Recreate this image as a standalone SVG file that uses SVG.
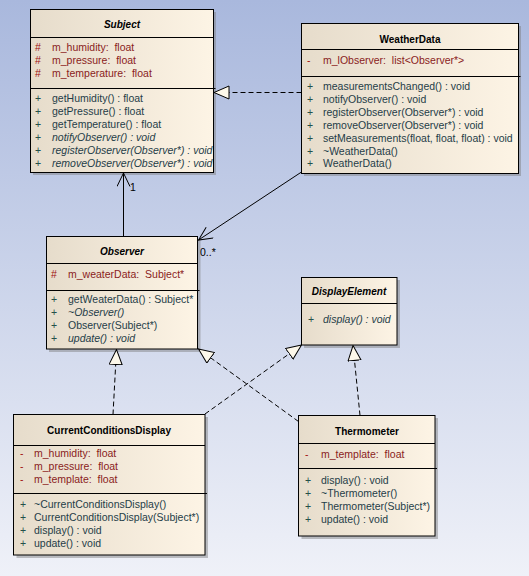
<svg xmlns="http://www.w3.org/2000/svg" width="529" height="576" viewBox="0 0 529 576">
<defs>
<linearGradient id="bg" x1="0" y1="0" x2="0" y2="1">
<stop offset="0" stop-color="#a9b8dd"/>
<stop offset="1" stop-color="#eff1f8"/>
</linearGradient>
<linearGradient id="box" x1="0" y1="0" x2="1" y2="0">
<stop offset="0" stop-color="#e6dccb"/>
<stop offset="1" stop-color="#fdf4e5"/>
</linearGradient>
<marker id="tri" markerUnits="userSpaceOnUse" viewBox="0 0 16 15" refX="15.5" refY="7" markerWidth="16" markerHeight="15" orient="auto">
<path d="M0.5,0.5 L15.5,7 L0.5,13.5 Z" fill="#fdf8ea" stroke="#000" stroke-width="1" stroke-dasharray="none"/>
</marker>
<marker id="open" markerUnits="userSpaceOnUse" viewBox="0 0 15 15" refX="14" refY="7" markerWidth="15" markerHeight="15" orient="auto">
<path d="M0.5,0.5 L14,7 L0.5,13.5" fill="none" stroke="#000" stroke-width="1" stroke-dasharray="none"/>
</marker>
</defs>
<style>
.shadow{fill:#7a7a7a;opacity:0.45}
.frame{fill:url(#box);stroke:#000;stroke-width:1}
.sep{stroke:#000;stroke-width:1}
text{font-family:"Liberation Sans",Arial,sans-serif;font-size:10.5px;white-space:pre}
.title{font-weight:bold;font-size:10px;fill:#000;text-anchor:middle}
.abs{font-style:italic}
.attr{fill:#8a1c1c}
.meth{fill:#1f3d48}
.vis-a{fill:#a01010}
.vis-m{fill:#24504a}
.it{font-style:italic}
.assoc{fill:none;stroke:#000;stroke-width:1}
.real{fill:none;stroke:#000;stroke-width:1;stroke-dasharray:5,3}
.lbl{fill:#000;font-size:10.5px}
</style>
<rect x="0" y="0" width="529" height="576" fill="url(#bg)"/>

<g id="Subject">
<rect class="shadow" x="33" y="12" width="183" height="163"/>
<rect class="frame" x="30.5" y="9.5" width="183" height="163"/>
<text class="title abs" x="122" y="28">Subject</text>
<line class="sep" x1="30.5" y1="37.5" x2="213.5" y2="37.5"/>
<text class="vis-a" x="35" y="50.5">#</text><text class="attr" x="52" y="50.5">m_humidity:  float</text>
<text class="vis-a" x="35" y="63.5">#</text><text class="attr" x="52" y="63.5">m_pressure:  float</text>
<text class="vis-a" x="35" y="76.5">#</text><text class="attr" x="52" y="76.5">m_temperature:  float</text>
<line class="sep" x1="30.5" y1="88.5" x2="215.5" y2="88.5"/>
<text class="vis-m" x="35" y="102">+</text><text class="meth" x="52" y="102">getHumidity() : float</text>
<text class="vis-m" x="35" y="115">+</text><text class="meth" x="52" y="115">getPressure() : float</text>
<text class="vis-m" x="35" y="128">+</text><text class="meth" x="52" y="128">getTemperature() : float</text>
<text class="vis-m" x="35" y="141">+</text><text class="meth it" x="52" y="141">notifyObserver() : void</text>
<text class="vis-m" x="35" y="154">+</text><text class="meth it" x="52" y="154">registerObserver(Observer*) : void</text>
<text class="vis-m" x="35" y="167">+</text><text class="meth it" x="52" y="167">removeObserver(Observer*) : void</text>
</g>

<g id="WeatherData">
<rect class="shadow" x="304" y="26" width="217" height="150"/>
<rect class="frame" x="301.5" y="23.5" width="217" height="150"/>
<text class="title" x="410" y="42.5">WeatherData</text>
<line class="sep" x1="301.5" y1="49.5" x2="518.5" y2="49.5"/>
<text class="vis-a" x="307" y="64">-</text><text class="attr" x="323" y="64">m_lObserver:  list&lt;Observer*&gt;</text>
<line class="sep" x1="301.5" y1="76.5" x2="520.5" y2="76.5"/>
<text class="vis-m" x="307" y="90">+</text><text class="meth" x="323" y="90">measurementsChanged() : void</text>
<text class="vis-m" x="307" y="103">+</text><text class="meth" x="323" y="103">notifyObserver() : void</text>
<text class="vis-m" x="307" y="115.5">+</text><text class="meth" x="323" y="115.5">registerObserver(Observer*) : void</text>
<text class="vis-m" x="307" y="128.5">+</text><text class="meth" x="323" y="128.5">removeObserver(Observer*) : void</text>
<text class="vis-m" x="307" y="141.5">+</text><text class="meth" x="323" y="141.5">setMeasurements(float, float, float) : void</text>
<text class="vis-m" x="307" y="154.5">+</text><text class="meth" x="323" y="154.5">~WeatherData()</text>
<text class="vis-m" x="307" y="167">+</text><text class="meth" x="323" y="167">WeatherData()</text>
</g>

<g id="Observer">
<rect class="shadow" x="49" y="239.5" width="151.5" height="112.5"/>
<rect class="frame" x="46.5" y="236.5" width="151" height="112.5"/>
<text class="title abs" x="122" y="255">Observer</text>
<line class="sep" x1="46.5" y1="263.5" x2="197.5" y2="263.5"/>
<text class="vis-a" x="51" y="277.5">#</text><text class="attr" x="68" y="277.5">m_weaterData:  Subject*</text>
<line class="sep" x1="46.5" y1="290.5" x2="199.5" y2="290.5"/>
<text class="vis-m" x="51" y="303">+</text><text class="meth" x="68" y="303">getWeaterData() : Subject*</text>
<text class="vis-m" x="51" y="316">+</text><text class="meth it" x="68" y="316">~Observer()</text>
<text class="vis-m" x="51" y="329">+</text><text class="meth" x="68" y="329">Observer(Subject*)</text>
<text class="vis-m" x="51" y="342">+</text><text class="meth it" x="68" y="342">update() : void</text>
</g>

<g id="DisplayElement">
<rect class="shadow" x="304" y="280" width="96" height="68"/>
<rect class="frame" x="301.5" y="277.5" width="95.5" height="67.5"/>
<text class="title abs" x="349" y="295">DisplayElement</text>
<line class="sep" x1="301.5" y1="303.5" x2="397" y2="303.5"/>
<text class="vis-m" x="308" y="322.5">+</text><text class="meth it" x="323" y="322.5">display() : void</text>
</g>

<g id="CurrentConditionsDisplay">
<rect class="shadow" x="16.5" y="417" width="191.5" height="141"/>
<rect class="frame" x="13.5" y="414.5" width="191.5" height="140.5"/>
<text class="title" x="109" y="434">CurrentConditionsDisplay</text>
<line class="sep" x1="13.5" y1="445.5" x2="205" y2="445.5"/>
<text class="vis-a" x="20" y="456.5">-</text><text class="attr" x="34" y="456.5">m_humidity:  float</text>
<text class="vis-a" x="20" y="469.5">-</text><text class="attr" x="34" y="469.5">m_pressure:  float</text>
<text class="vis-a" x="20" y="482.5">-</text><text class="attr" x="34" y="482.5">m_template:  float</text>
<line class="sep" x1="13.5" y1="493.5" x2="207" y2="493.5"/>
<text class="vis-m" x="20" y="507.5">+</text><text class="meth" x="34" y="507.5">~CurrentConditionsDisplay()</text>
<text class="vis-m" x="20" y="520.5">+</text><text class="meth" x="34" y="520.5">CurrentConditionsDisplay(Subject*)</text>
<text class="vis-m" x="20" y="533.5">+</text><text class="meth" x="34" y="533.5">display() : void</text>
<text class="vis-m" x="20" y="546.5">+</text><text class="meth" x="34" y="546.5">update() : void</text>
</g>

<g id="Thermometer">
<rect class="shadow" x="301.5" y="418" width="136.5" height="121"/>
<rect class="frame" x="298.5" y="415.5" width="136.5" height="120.5"/>
<text class="title" x="367" y="435">Thermometer</text>
<line class="sep" x1="298.5" y1="443.5" x2="435" y2="443.5"/>
<text class="vis-a" x="305" y="457.5">-</text><text class="attr" x="321" y="457.5">m_template:  float</text>
<line class="sep" x1="298.5" y1="468.5" x2="437" y2="468.5"/>
<text class="vis-m" x="305" y="483.5">+</text><text class="meth" x="321" y="483.5">display() : void</text>
<text class="vis-m" x="305" y="496.5">+</text><text class="meth" x="321" y="496.5">~Thermometer()</text>
<text class="vis-m" x="305" y="509.5">+</text><text class="meth" x="321" y="509.5">Thermometer(Subject*)</text>
<text class="vis-m" x="305" y="522.5">+</text><text class="meth" x="321" y="522.5">update() : void</text>
</g>

<g id="connectors">
<line class="assoc" x1="123.5" y1="236.5" x2="123.5" y2="173" marker-end="url(#open)"/>
<text class="lbl" x="130" y="191">1</text>
<line class="assoc" x1="301.5" y1="172" x2="198.5" y2="240" marker-end="url(#open)"/>
<text class="lbl" x="200" y="256">0..*</text>
<line class="real" x1="301.5" y1="92.5" x2="214" y2="92.5" marker-end="url(#tri)"/>
<line class="real" x1="113" y1="414.5" x2="116.5" y2="349.5" marker-end="url(#tri)"/>
<line class="real" x1="298.5" y1="421.5" x2="198.5" y2="349" marker-end="url(#tri)"/>
<line class="real" x1="205" y1="414" x2="301.5" y2="345" marker-end="url(#tri)"/>
<line class="real" x1="360" y1="415.5" x2="353" y2="345.5" marker-end="url(#tri)"/>
</g>
</svg>
